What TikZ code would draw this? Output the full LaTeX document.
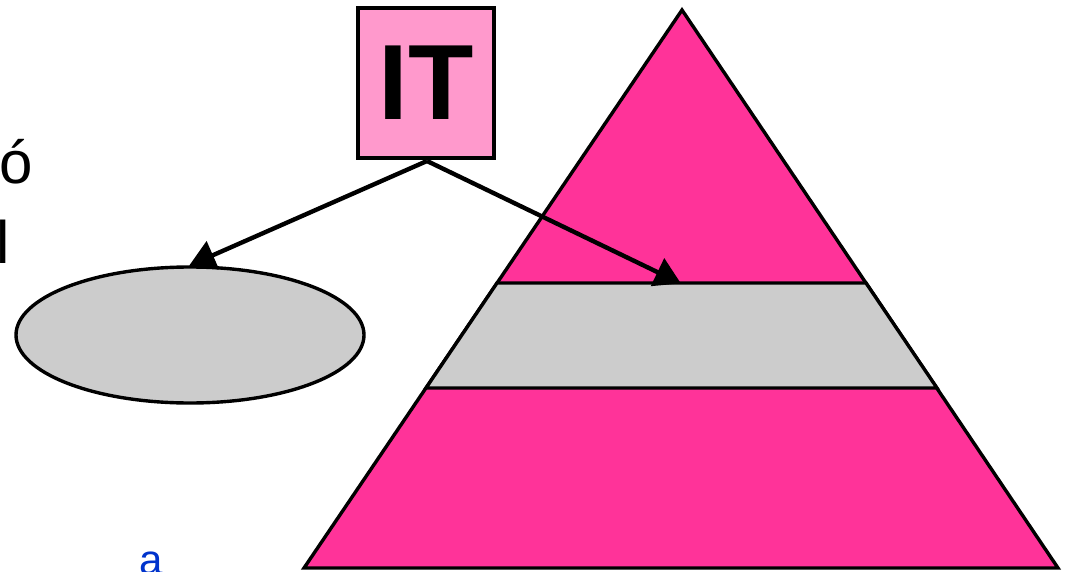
\documentclass[tikz,border=0pt]{standalone}
\usepackage{fontspec}
\setmainfont{Liberation Sans}
\usetikzlibrary{arrows.meta,shapes.geometric}
\definecolor{itpink}{HTML}{FF99CC}
\definecolor{pyrpink}{HTML}{FF3399}
\definecolor{bandgray}{HTML}{CCCCCC}
\definecolor{txtblue}{HTML}{0033CC}
\tikzset{
  outl/.style={draw=black, line width=3.4pt, line join=miter},
  conn/.style={draw=black, line width=4.4pt, -{Triangle[length=26pt,width=30pt]}, shorten >=-1pt},
  lbl/.style={inner sep=0pt, font=\fontsize{60}{60}\selectfont}
}
\begin{document}
\begin{tikzpicture}[x=1pt,y=-1pt]
\useasboundingbox (0,0) rectangle (1067,572);
\clip (0,0) rectangle (1067,572);
% pyramid
\path[outl, fill=pyrpink] (682,10) -- (1058,568) -- (304,568) -- cycle;
\path[outl, fill=bandgray] (497,283) -- (866,283) -- (937,388) -- (426,388) -- cycle;
% ellipse
\node[outl, fill=bandgray, ellipse, minimum width=348pt, minimum height=136pt, inner sep=0pt] (ell) at (190,335) {};
% IT box
\node[outl, fill=itpink, minimum width=136pt, minimum height=150pt, inner sep=0pt,
  font=\fontsize{107}{107}\selectfont\bfseries] (it) at (426,83) {IT};
\coordinate (band) at (680,283);
\coordinate (src) at (427,161);
\draw[conn] (src) -- (ell.north);
\draw[conn] (src) -- (band);
% texts
\node[lbl, anchor=base west] (t1) at (-1,183) {ó};
\node[lbl, anchor=base west] (t2) at (-4,263) {l};
\node[inner sep=0pt, anchor=base west, text=txtblue, font=\fontsize{42}{42}\selectfont] (t3) at (139,574) {a};
\end{tikzpicture}
\end{document}
